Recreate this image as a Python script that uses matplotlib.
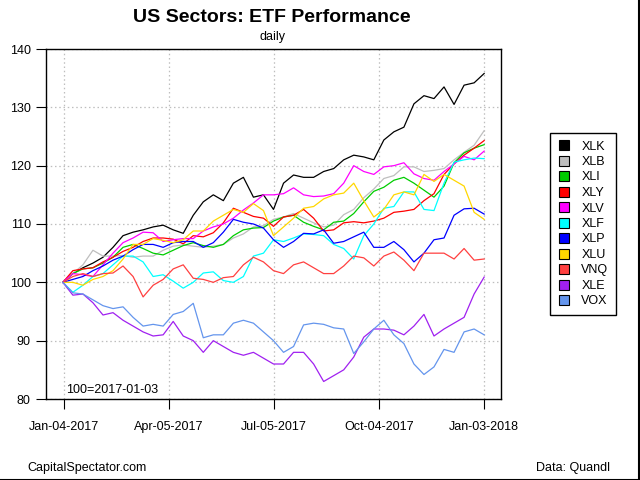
import numpy as np
import pandas as pd
import matplotlib
matplotlib.use("Agg")
import matplotlib.pyplot as plt
from matplotlib.lines import Line2D

plt.rcParams['font.family'] = ['Liberation Sans', 'DejaVu Sans']

# sample dates (roughly every 8-9 calendar days), index 100 = 2017-01-03
dates = pd.date_range('2017-01-03', '2018-01-03', periods=43)

tickers = ['XLK', 'XLB', 'XLI', 'XLY', 'XLV', 'XLF', 'XLP', 'XLU', 'VNQ', 'XLE', 'VOX']
colors = ['#000000', '#BEBEBE', '#00CD00', '#FF0000', '#FF00FF', '#00FFFF',
          '#0000FF', '#FFD700', '#FF4040', '#A020F0', '#6495ED']

xlk = [100, 101.5, 102.5, 103.3, 104.3, 106, 108, 108.6, 109, 109.5, 109.8, 109, 108.4, 111.5,
       113.8, 115, 114, 117, 118, 114.6, 115, 112.5, 117, 118.4, 118, 118, 119, 119.5, 121,
       121.8, 121.5, 121, 124.4, 125.8, 126.6, 130.6, 132, 131.5, 133.5, 130.5, 133.8, 134.2, 135.8]
xlb = [100, 101.5, 103, 105.5, 104.5, 104.5, 104.6, 104.3, 104.5, 104.5, 105.5, 106.2, 106.4,
       106.2, 106, 106.2, 106.5, 107.6, 108.3, 109.5, 109.7, 110.8, 111.2, 111.8, 111, 110.2,
       109.5, 109.8, 111.6, 112.5, 114.5, 116, 117.8, 118.3, 119.8, 119.8, 119, 119.2, 119.5,
       121, 122.3, 123.5, 126]
xli = [100, 101.5, 102.3, 102.5, 103.3, 104.3, 106, 106.5, 105.8, 105, 104.7, 105.5, 106.3,
       106.8, 106.3, 106, 106.5, 108, 109, 109.3, 109.4, 110.5, 111.2, 111.5, 110.3, 109.6, 109,
       110.3, 110.5, 111.8, 113.8, 115.6, 116.3, 117.5, 118, 117, 115.8, 114.6, 116.5, 120.5,
       122.2, 123, 123.6]
xly = [100, 102, 102.3, 102.5, 103.5, 104.3, 105.3, 106, 107, 107.6, 107.6, 107.4, 106.6, 108,
       107.8, 108.5, 110.2, 112.7, 112, 111.3, 111, 109.6, 111.2, 111.5, 112.5, 111, 108.8, 109,
       110.2, 110.4, 110.2, 110.5, 111, 112, 112.2, 112.5, 114, 115.2, 118.5, 120.3, 121.8, 123,
       124.3]
xlv = [100, 101.5, 101.3, 101, 103, 105, 106.8, 107.6, 108.6, 108.5, 107, 107.3, 107.5, 107.5,
       108.8, 109.5, 110, 111, 112.4, 113.6, 115, 115, 115.2, 116.2, 115, 114.7, 114.8, 115.2,
       117, 120, 119, 118.5, 119.8, 120, 120.5, 118.6, 117.8, 117.5, 119, 120.3, 121.6, 121,
       122.5]
xlf = [100, 98.3, 99.5, 101, 101.5, 103, 104.5, 104.5, 103.5, 101, 101.3, 100.2, 99, 100,
       101.6, 101.8, 100.3, 100, 101, 104.5, 105, 107.3, 107, 107.6, 108.3, 108.2, 108, 106.5,
       105.8, 104, 108, 110, 112.7, 113, 115.5, 115.5, 112.5, 112.3, 117, 120.6, 121, 121.3, 121.2]
xlp = [100, 100.5, 101, 102, 102.8, 103.8, 104.5, 105.6, 106.5, 106.5, 106, 106.8, 107, 107,
       106, 106.8, 108.6, 110.8, 110.3, 110, 109.3, 107.3, 106, 107, 108.4, 108.3, 109, 106.7,
       107, 107.8, 108.6, 106, 106, 107, 105.6, 103.5, 105, 107.3, 107.6, 111.5, 112.6, 112.7,
       111.7]
xlu = [100, 100, 99.5, 100.5, 101, 102, 104, 106.5, 106.5, 107.5, 107.2, 106.8, 107.3, 108.8,
       108.8, 110.5, 111.5, 112.5, 112, 113.5, 112.3, 108, 109.5, 111, 112.7, 113, 114.3, 115,
       115.3, 117, 114, 111.2, 112.5, 115, 115.5, 115, 118.5, 117.3, 118.5, 117.5, 116.5, 112,
       110.8]
vnq = [100, 101, 101.5, 101, 101.5, 101.6, 102.8, 101, 97.5, 99.5, 100.5, 102.3, 103, 100.7,
       100.5, 100, 100.8, 101, 103, 104.3, 103.5, 102, 101.5, 103, 103.5, 102.5, 101.5, 101.5,
       102.8, 104.5, 104.2, 102.8, 104.5, 105.2, 103.8, 102, 105, 105, 105, 104, 105.8, 103.8, 104]
xle = [100, 97.8, 98, 96.5, 94.4, 94.8, 93.5, 92.5, 91.5, 90.8, 91, 93.3, 90.8, 90, 88, 90, 89,
       88, 87.5, 88, 87, 86, 86, 88, 88, 86, 83, 84, 85, 87.2, 90.6, 92, 92, 91.8, 91, 92.5, 94.5,
       90.8, 92, 93, 94, 98, 100.9]
vox = [100, 98.2, 98, 97, 96, 95.5, 95.8, 94, 92.5, 92.8, 92.5, 94.5, 95, 96.4, 90.5, 91, 91,
       93, 93.5, 93, 91.5, 90, 88, 89, 92.7, 93, 92.8, 92.2, 92, 87.8, 89.8, 92, 93.5, 91, 89.5,
       86, 84.2, 85.5, 88.5, 88, 91.5, 92, 91]

series = [xlk, xlb, xli, xly, xlv, xlf, xlp, xlu, vnq, xle, vox]

tick_dates = pd.to_datetime(['2017-01-04', '2017-04-05', '2017-07-05', '2017-10-04', '2018-01-03'])
tick_labels = ['Jan-04-2017', 'Apr-05-2017', 'Jul-05-2017', 'Oct-04-2017', 'Jan-03-2018']
y_ticks = [80, 90, 100, 110, 120, 130, 140]

fig = plt.figure(figsize=(6.4, 4.8), dpi=100)
ax = fig.add_axes([46/640, 1 - 399/480, 455/640, 350/480])

for vals, col, name in zip(series, colors, tickers):
    ax.plot(dates, vals, color=col, lw=0.9, label=name)

pad = pd.Timedelta(days=14.6)
ax.set_xlim(dates[0] - pad, dates[-1] + pad)
ax.set_ylim(80, 140)
ax.set_xticks(tick_dates)
ax.set_xticklabels(tick_labels)
ax.set_yticks(y_ticks)
ax.tick_params(direction='out', length=7, width=0.8, labelsize=9, pad=4, colors='black')
ax.tick_params(axis='x', pad=9)
ax.grid(True, color='#BEBEBE', linestyle=(0, (1.2, 2.2)), lw=0.9)
for s in ax.spines.values():
    s.set_linewidth(1.0)
    s.set_color('black')

ax.text(0.045, 0.008, '100=2017-01-03', transform=ax.transAxes, ha='left', va='bottom',
        fontsize=9)

fig.text(272/640, 1 - 17/480, 'US Sectors: ETF Performance', ha='center', va='center',
         fontsize=14, fontweight='bold')
fig.text(272/640, 1 - 37/480, 'daily', ha='center', va='center', fontsize=9)
fig.text(27/640, 1 - 468/480, 'CapitalSpectator.com', ha='left', va='center', fontsize=9)
fig.text(610/640, 1 - 468/480, 'Data: Quandl', ha='right', va='center', fontsize=9)

handles = [Line2D([], [], ls='none', marker='s', markersize=7, markerfacecolor=c,
                  markeredgecolor='black', markeredgewidth=0.8) for c in colors]
leg = fig.legend(handles, tickers, loc='upper left', bbox_to_anchor=(550/640, 1 - 133/480),
                 frameon=True, fancybox=False, edgecolor='black', framealpha=1,
                 fontsize=9, handlelength=1.0, handletextpad=0.9, labelspacing=0.28,
                 borderpad=0.6, borderaxespad=0)
leg.get_frame().set_linewidth(1.0)

# border on right and bottom edges of the image
fig.add_artist(Line2D([0, 1], [0.001, 0.001], transform=fig.transFigure, color='black', lw=1.5))
fig.add_artist(Line2D([0.999, 0.999], [0, 1], transform=fig.transFigure, color='black', lw=1.5))

fig.savefig('out.png', dpi=100)
